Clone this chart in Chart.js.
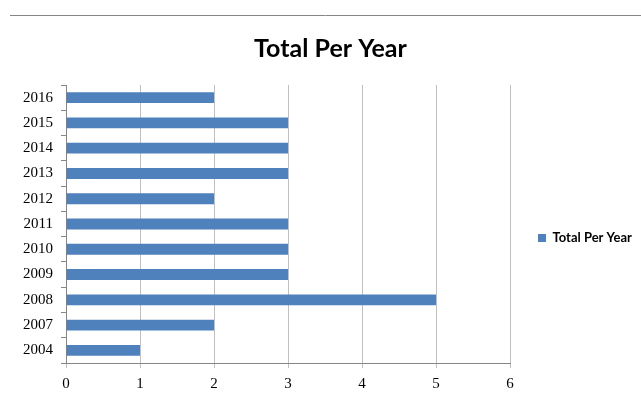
<!DOCTYPE html>
<html>
<head>
<meta charset="utf-8">
<script src="https://cdn.jsdelivr.net/npm/chart.js@4/dist/chart.umd.min.js"></script>
<style>
  html, body { margin: 0; padding: 0; background: #ffffff; }
  #wrap { width: 641px; height: 396px; position: relative; }
</style>
</head>
<body>
<div id="wrap"><canvas id="c" width="641" height="396"></canvas></div>
<script>
const years = ['2016', '2015', '2014', '2013', '2012', '2011', '2010', '2009', '2008', '2007', '2004'];
const totals = [2, 3, 3, 3, 2, 3, 3, 3, 5, 2, 1];
const xTicks = [0, 1, 2, 3, 4, 5, 6];
const seriesName = 'Total Per Year';
const chartTitle = 'Total Per Year';

const topRule = {
  id: 'topRule',
  beforeDraw(chart) {
    const ctx = chart.ctx;
    ctx.save();
    ctx.strokeStyle = '#868686';
    ctx.lineWidth = 1;
    ctx.beginPath();
    ctx.moveTo(10, 15.5);
    ctx.lineTo(641, 15.5);
    ctx.stroke();
    ctx.restore();
  }
};

// Office centres the legend on the whole plot height; nudge Chart.js legend box down a little.
const legendNudge = {
  id: 'legendNudge',
  afterLayout(chart) {
    const lg = chart.legend;
    if (lg) { lg.top += 14; lg.bottom += 14; }
  }
};

new Chart(document.getElementById('c'), {
  type: 'bar',
  data: {
    labels: years,
    datasets: [{
      label: seriesName,
      data: totals,
      backgroundColor: '#4f81bd',
      borderWidth: 0,
      barPercentage: 0.43,
      categoryPercentage: 1.0
    }]
  },
  options: {
    indexAxis: 'y',
    responsive: false,
    animation: false,
    layout: { padding: { left: 20, right: 0, top: 0, bottom: 0 } },
    plugins: {
      title: {
        display: true,
        text: chartTitle,
        color: '#000000',
        font: { family: "Lato, 'DejaVu Sans Condensed', sans-serif", size: 25, weight: 'bold' },
        padding: { top: 34, bottom: 21 }
      },
      legend: {
        display: true,
        position: 'right',
        fullSize: false,
        maxWidth: 131,
        labels: {
          boxWidth: 8,
          boxHeight: 8,
          padding: 28,
          color: '#000000',
          font: { family: "Lato, 'DejaVu Sans Condensed', sans-serif", size: 13, weight: 'bold' }
        }
      },
      tooltip: { enabled: false }
    },
    scales: {
      x: {
        min: 0,
        max: 6,
        afterBuildTicks(scale) { scale.ticks = xTicks.map(v => ({ value: v })); },
        afterFit(scale) { scale.height = 33; },
        grid: { color: '#c0c0c0', tickColor: '#c0c0c0', tickLength: 5, drawTicks: true },
        border: { color: '#868686', width: 1 },
        ticks: {
          padding: 7,
          color: '#000000',
          font: { family: "'Liberation Serif', serif", size: 15 }
        }
      },
      y: {
        afterFit(scale) { scale.width = 46; },
        grid: { drawOnChartArea: false, drawTicks: true, tickLength: 5, tickColor: '#868686', offset: true },
        border: { color: '#868686', width: 1 },
        ticks: {
          padding: 8,
          color: '#000000',
          font: { family: "'Liberation Serif', serif", size: 15 }
        }
      }
    }
  },
  plugins: [topRule, legendNudge]
});
</script>
</body>
</html>
